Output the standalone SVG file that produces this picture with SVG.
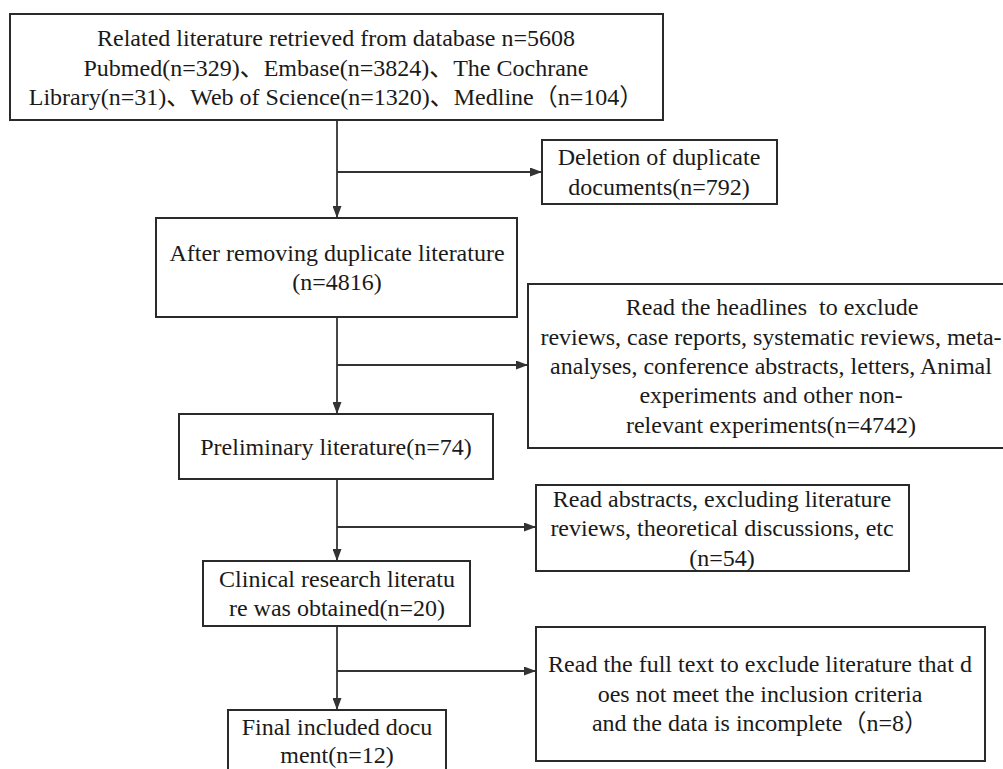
<svg xmlns="http://www.w3.org/2000/svg" width="1003" height="769" viewBox="0 0 1003 769">
<style>
.box{fill:#fff;stroke:#2a2a2a;stroke-width:2}
.t{font-family:"Liberation Serif","Noto Sans CJK SC",serif;font-size:24px;fill:#1a1a1a;text-anchor:middle;white-space:pre}
.c{fill:none;stroke:#333;stroke-width:1.8}
</style>
<defs>
<marker id="ah" viewBox="0 0 12 9" refX="12" refY="4.5" markerWidth="12" markerHeight="9" markerUnits="userSpaceOnUse" orient="auto">
<path d="M0,0 L12,4.5 L0,9 z" fill="#333"/>
</marker>
</defs>
<rect width="1003" height="769" fill="#fff"/>
<g id="connectors">
<line class="c" x1="337" y1="120" x2="337" y2="218" marker-end="url(#ah)"/>
<line class="c" x1="337" y1="172" x2="542" y2="172" marker-end="url(#ah)"/>
<line class="c" x1="337" y1="317" x2="337" y2="414" marker-end="url(#ah)"/>
<line class="c" x1="337" y1="365" x2="528" y2="365" marker-end="url(#ah)"/>
<line class="c" x1="337" y1="479" x2="337" y2="561" marker-end="url(#ah)"/>
<line class="c" x1="337" y1="527" x2="536" y2="527" marker-end="url(#ah)"/>
<line class="c" x1="337" y1="626" x2="337" y2="710" marker-end="url(#ah)"/>
<line class="c" x1="337" y1="671" x2="536" y2="671" marker-end="url(#ah)"/>
</g>
<g id="n1">
<rect class="box" x="10" y="14" width="653" height="106"/>
<text class="t" x="336" y="46">Related literature retrieved from database n=5608</text>
<text class="t" x="336" y="76">Pubmed(n=329)、Embase(n=3824)、The Cochrane</text>
<text class="t" x="336" y="105">Library(n=31)、Web of Science(n=1320)、Medline（n=104）</text>
</g>
<g id="n2">
<rect class="box" x="542" y="140" width="235" height="64"/>
<text class="t" x="659" y="165">Deletion of duplicate</text>
<text class="t" x="659" y="195">documents(n=792)</text>
</g>
<g id="n3">
<rect class="box" x="156" y="218" width="361" height="99"/>
<text class="t" x="337" y="261">After removing duplicate literature</text>
<text class="t" x="337" y="290">(n=4816)</text>
</g>
<g id="n4">
<rect class="box" x="528" y="284" width="490" height="164"/>
<text class="t" x="772" y="315" xml:space="preserve">Read the headlines  to exclude</text>
<text class="t" x="771" y="345">reviews, case reports, systematic reviews, meta-</text>
<text class="t" x="771" y="374">analyses, conference abstracts, letters, Animal</text>
<text class="t" x="771" y="403">experiments and other non-</text>
<text class="t" x="771" y="433">relevant experiments(n=4742)</text>
</g>
<g id="n5">
<rect class="box" x="179" y="414" width="314" height="65"/>
<text class="t" x="336" y="455">Preliminary literature(n=74)</text>
</g>
<g id="n6">
<rect class="box" x="536" y="485" width="373" height="86"/>
<text class="t" x="722" y="507">Read abstracts, excluding literature</text>
<text class="t" x="722" y="536">reviews, theoretical discussions, etc</text>
<text class="t" x="722" y="566">(n=54)</text>
</g>
<g id="n7">
<rect class="box" x="203" y="561" width="267" height="65"/>
<text class="t" x="337" y="587">Clinical research literatu</text>
<text class="t" x="337" y="616">re was obtained(n=20)</text>
</g>
<g id="n8">
<rect class="box" x="228" y="710" width="218" height="80"/>
<text class="t" x="337" y="735">Final included docu</text>
<text class="t" x="337" y="763">ment(n=12)</text>
</g>
<g id="n9">
<rect class="box" x="536" y="627" width="449" height="134"/>
<text class="t" x="760" y="672">Read the full text to exclude literature that d</text>
<text class="t" x="760" y="702">oes not meet the inclusion criteria</text>
<text class="t" x="760" y="731">and the data is incomplete（n=8）</text>
</g>
</svg>
